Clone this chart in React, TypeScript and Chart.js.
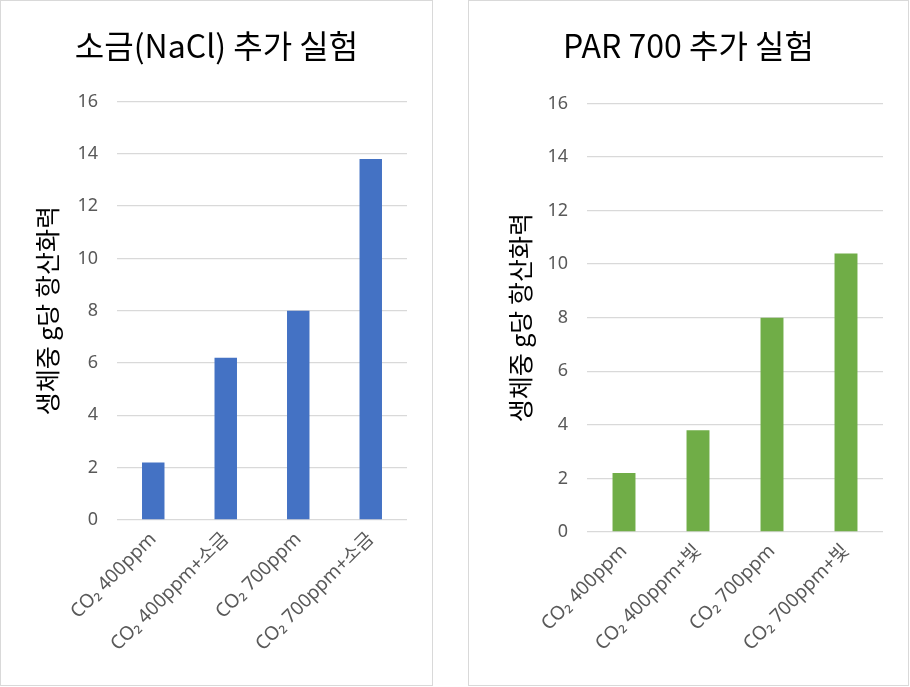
import React, { useEffect, useRef } from "react";
import { Chart, registerables } from "chart.js";

Chart.register(...registerables);

const leftTitle = "소금(NaCl) 추가 실험";
const leftCategories = ["CO₂ 400ppm", "CO₂ 400ppm+소금", "CO₂ 700ppm", "CO₂ 700ppm+소금"];
const leftValues = [2.2, 6.2, 8.0, 13.8];

const rightTitle = "PAR 700 추가 실험";
const rightCategories = ["CO₂ 400ppm", "CO₂ 400ppm+빛", "CO₂ 700ppm", "CO₂ 700ppm+빛"];
const rightValues = [2.2, 3.8, 8.0, 10.4];

const yAxisTitle = "생체중 g당 항산화력";
const yMin = 0;
const yMax = 16;
const yStep = 2;

const FONT = '"Noto Sans", "Noto Sans CJK KR", sans-serif';
const KFONT = '"Noto Sans CJK KR", "Noto Sans", sans-serif';

type PanelProps = {
  left: number;
  width: number;
  height: number;
  title: string;
  categories: string[];
  values: number[];
  color: string;
  yAxisWidth: number;
  xAxisHeight: number;
  titleBottomPad: number;
  yTitlePad: number;
  rightPad: number;
};

function Panel(p: PanelProps) {
  const ref = useRef<HTMLCanvasElement | null>(null);
  useEffect(() => {
    if (!ref.current) return;
    const chart = new Chart(ref.current, {
      type: "bar",
      data: {
        labels: p.categories,
        datasets: [
          {
            data: p.values,
            backgroundColor: p.color,
            borderWidth: 0,
            barPercentage: 0.31,
            categoryPercentage: 1,
            yAxisID: "y",
          },
        ],
      },
      options: {
        responsive: false,
        animation: false,
        devicePixelRatio: 1,
        layout: { padding: 0 },
        plugins: {
          legend: { display: false },
          tooltip: { enabled: false },
          title: {
            display: true,
            text: p.title,
            color: "#000000",
            font: { family: KFONT, size: 32, weight: "normal" },
            padding: { top: 26, bottom: p.titleBottomPad },
          },
        },
        scales: {
          x: {
            grid: { display: false, drawTicks: false },
            border: { display: false },
            ticks: {
              color: "#595959",
              font: { family: FONT, size: 19 },
              minRotation: 45,
              maxRotation: 45,
              autoSkip: false,
              padding: 8,
            },
            afterFit: (scale: any) => {
              scale.height = p.xAxisHeight;
            },
          },
          y: {
            min: yMin,
            max: yMax,
            grid: { color: "#d9d9d9", lineWidth: 1.3, drawTicks: false },
            border: { display: false },
            ticks: {
              stepSize: yStep,
              color: "#595959",
              font: { family: FONT, size: 18 },
              padding: 19,
            },
            title: {
              display: true,
              text: yAxisTitle,
              color: "#000000",
              font: { family: KFONT, size: 25, weight: "normal" },
              padding: { top: p.yTitlePad, bottom: 0 },
            },
            afterFit: (scale: any) => {
              scale.width = p.yAxisWidth;
            },
          },
          yRightSpace: {
            type: "linear",
            position: "right",
            display: true,
            min: yMin,
            max: yMax,
            grid: { display: false, drawTicks: false },
            border: { display: false },
            ticks: { display: false },
            afterFit: (scale: any) => {
              scale.width = p.rightPad;
            },
          },
        },
      },
    } as any);
    return () => chart.destroy();
  }, []);
  return (
    <div
      style={{
        position: "absolute",
        left: p.left,
        top: 0,
        width: p.width,
        height: p.height,
        border: "1px solid #d9d9d9",
        background: "#ffffff",
      }}
    >
      <canvas ref={ref} width={p.width} height={p.height} style={{ display: "block" }} />
    </div>
  );
}

export default function App() {
  return (
    <div style={{ position: "fixed", left: 0, top: 0, width: 910, height: 687, background: "#ffffff" }}>
      <Panel
        left={0}
        width={431}
        height={684}
        title={leftTitle}
        categories={leftCategories}
        values={leftValues}
        color="#4472C4"
        yAxisWidth={116}
        xAxisHeight={165}
        titleBottomPad={36}
        yTitlePad={31}
        rightPad={25}
      />
      <Panel
        left={468}
        width={439}
        height={684}
        title={rightTitle}
        categories={rightCategories}
        values={rightValues}
        color="#70AD47"
        yAxisWidth={118}
        xAxisHeight={153}
        titleBottomPad={38}
        yTitlePad={36}
        rightPad={25}
      />
    </div>
  );
}
